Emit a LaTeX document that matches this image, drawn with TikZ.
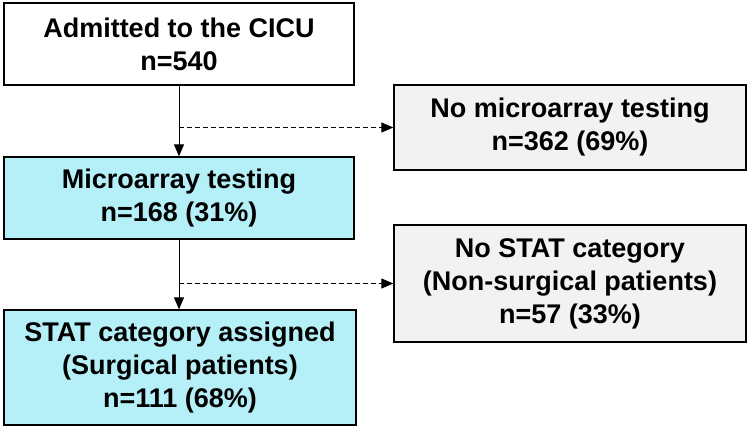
\documentclass[tikz,border=0pt]{standalone}
\usepackage{fontspec}
\setmainfont{Liberation Sans}
\usepackage{tikz}
\usetikzlibrary{arrows.meta}
\definecolor{cyanfill}{HTML}{B5F0F8}
\definecolor{grayfill}{HTML}{F2F2F2}

\begin{document}
\begin{tikzpicture}[x=1pt, y=-1pt, every node/.style={font=\fontsize{27}{33}\selectfont\bfseries},
	box/.style={draw, line width=1.3pt, align=center, inner sep=0pt},
	arr/.style={-{Triangle[width=10pt,length=12pt]}, line width=0.8pt}]
	\useasboundingbox (0,0) rectangle (750,428);
	\node[box, minimum width=350pt, minimum height=82pt] (adm) at (179,44) {Admitted to the CICU\\ n=540};
	\node[box, fill=grayfill, minimum width=352pt, minimum height=85pt] (nomic) at (570,127.5) {No microarray testing\\ n=362 (69\%)};
	\node[box, fill=cyanfill, minimum width=350pt, minimum height=82pt] (mic) at (179,198) {Microarray testing\\ n=168 (31\%)};
	\node[box, fill=grayfill, minimum width=352pt, minimum height=117pt] (nostat) at (570,283.5) {No STAT category\\ (Non-surgical patients)\\ n=57 (33\%)};
	\node[box, fill=cyanfill, minimum width=352pt, minimum height=115pt] (stat) at (180,367.5) {STAT category assigned\\ (Surgical patients)\\ n=111 (68\%)};
	% connectors
	\coordinate (j1) at (adm.south |- nomic.west);
	\coordinate (j2) at (mic.south |- nostat.west);
	\draw[arr] (adm.south) -- (mic.north);
	\draw[arr] (mic.south) -- (mic.south |- stat.north);
	\draw[arr, dash pattern=on 5pt off 3pt] (j1) -- (nomic.west);
	\draw[arr, dash pattern=on 5pt off 3pt] (j2) -- (nostat.west);
\end{tikzpicture}
\end{document}
